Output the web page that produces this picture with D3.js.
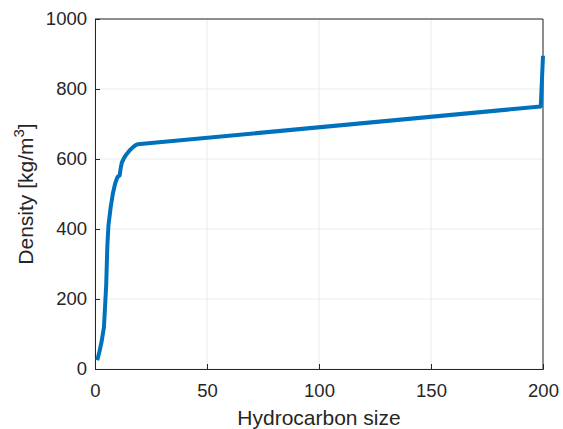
<!DOCTYPE html>
<html>
<head>
<meta charset="utf-8">
<script src="https://cdn.jsdelivr.net/npm/d3@7"></script>
<style>
  html, body { margin: 0; padding: 0; background: #fff; }
  svg { display: block; font-family: "Liberation Sans", Arial, sans-serif; }
</style>
</head>
<body>
<svg id="chart" width="563" height="429"></svg>
<script>
// Density against hydrocarbon carbon number
const carbonSize = [1, 2, 3, 4, 5, 5.5, 6, 7, 8, 9, 10, 11, 11.5, 12, 13, 14, 15, 16, 17, 18, 19, 199, 200];
const density    = [25, 50, 80, 120, 240, 350, 410, 462, 502, 530, 548, 553, 575, 590, 603, 613, 621, 628, 634, 639, 642, 750, 895];
const xTicks = [0, 50, 100, 150, 200];
const yTicks = [0, 200, 400, 600, 800, 1000];

const svg = d3.select("#chart");
const m = { left: 95, right: 543, top: 19, bottom: 369 };

const x = d3.scaleLinear().domain([0, 200]).range([m.left, m.right]);
const y = d3.scaleLinear().domain([0, 1000]).range([m.bottom, m.top]);

// grid
const grid = svg.append("g");
grid.selectAll(".gx").data(xTicks).join("line")
  .attr("x1", d => x(d)).attr("x2", d => x(d))
  .attr("y1", m.top).attr("y2", m.bottom)
  .attr("stroke", "#ebebeb").attr("stroke-width", 1);
grid.selectAll(".gy").data(yTicks).join("line")
  .attr("y1", d => y(d)).attr("y2", d => y(d))
  .attr("x1", m.left).attr("x2", m.right)
  .attr("stroke", "#ebebeb").attr("stroke-width", 1);

// axes
const fmt = d3.format("d");
const xAxis = d3.axisBottom(x).tickValues(xTicks).tickFormat(fmt).tickSize(-5).tickPadding(15);
const yAxis = d3.axisLeft(y).tickValues(yTicks).tickFormat(fmt).tickSize(-5).tickPadding(8);

const gx = svg.append("g").attr("transform", `translate(0,${m.bottom})`).call(xAxis);
const gy = svg.append("g").attr("transform", `translate(${m.left},0)`).call(yAxis);
[gx, gy].forEach(g => {
  g.select(".domain").attr("stroke", "#262626");
  g.selectAll(".tick line").attr("stroke", "#262626");
  g.selectAll(".tick text").attr("fill", "#262626")
    .style("font-size", "18.5px").style("font-family", "'Liberation Sans', Arial, sans-serif");
});

// box edges
svg.append("line").attr("x1", m.left).attr("x2", m.right).attr("y1", m.top).attr("y2", m.top)
  .attr("stroke", "#262626").attr("stroke-width", 1);
svg.append("line").attr("x1", m.right).attr("x2", m.right).attr("y1", m.top).attr("y2", m.bottom)
  .attr("stroke", "#262626").attr("stroke-width", 1);

// curve
const pts = carbonSize.map((c, i) => [c, density[i]]);
svg.append("path")
  .datum(pts)
  .attr("fill", "none")
  .attr("stroke", "#0072BD")
  .attr("stroke-width", 4)
  .attr("stroke-linejoin", "round")
  .attr("d", d3.line().x(d => x(d[0])).y(d => y(d[1])));

// axis titles
svg.append("text")
  .attr("x", (m.left + m.right) / 2).attr("y", 425)
  .attr("text-anchor", "middle")
  .attr("fill", "#262626")
  .style("font-size", "21px")
  .text("Hydrocarbon size");

const yl = svg.append("text")
  .attr("transform", `translate(33,${(m.top + m.bottom) / 2}) rotate(-90)`)
  .attr("text-anchor", "middle")
  .attr("fill", "#262626")
  .style("font-size", "21px");
yl.append("tspan").text("Density [kg/m");
yl.append("tspan").attr("dy", -9).style("font-size", "15px").text("3");
yl.append("tspan").attr("dy", 9).text("]");
</script>
</body>
</html>
